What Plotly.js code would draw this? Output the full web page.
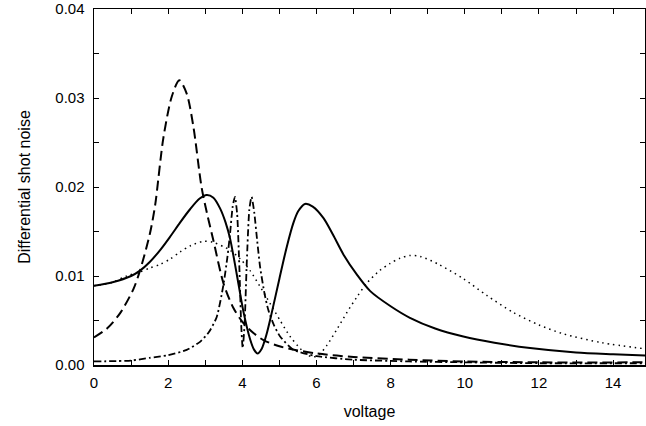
<!DOCTYPE html>
<html>
<head>
<meta charset="utf-8">
<script src="https://cdn.plot.ly/plotly-3.0.1.min.js"></script>
<style>html,body{margin:0;padding:0;background:#fff;}#chart{width:646px;height:426px;}</style>
</head>
<body>
<div id="chart"></div>
<script>
// Solid curve
var solidX = [0, 0.5, 1.0, 1.24, 1.51, 1.8, 2.05, 2.32, 2.59, 2.85, 3.04, 3.22, 3.40, 3.55, 3.67, 3.85, 4.03, 4.21, 4.32, 4.41, 4.52, 4.65, 4.79, 5.0, 5.2, 5.38, 5.51, 5.69, 5.9, 6.19, 6.45, 6.73, 7.1, 7.45, 8.0, 8.52, 9.2, 9.96, 10.8, 11.76, 13.0, 14.0, 14.9];
var solidY = [0.0089, 0.0093, 0.0100, 0.0106, 0.0116, 0.0130, 0.0144, 0.0160, 0.0175, 0.0187, 0.0191, 0.0188, 0.0176, 0.0160, 0.0142, 0.0102, 0.0060, 0.0029, 0.0017, 0.0013, 0.0018, 0.0034, 0.0058, 0.0097, 0.0133, 0.0160, 0.0173, 0.0181, 0.0178, 0.0165, 0.0146, 0.0124, 0.0101, 0.0083, 0.0066, 0.0053, 0.0041, 0.0032, 0.0025, 0.0019, 0.0014, 0.0012, 0.00105];

// Long-dashed curve
var dashX = [0, 0.35, 0.70, 1.06, 1.24, 1.51, 1.65, 1.87, 2.10, 2.30, 2.50, 2.68, 2.90, 3.05, 3.22, 3.49, 3.76, 4.03, 4.30, 4.57, 5.0, 5.3, 6.0, 7.0, 8.5, 10, 12, 14.9];
var dashY = [0.0031, 0.0041, 0.0058, 0.0085, 0.0106, 0.0148, 0.0180, 0.0255, 0.0302, 0.0320, 0.0305, 0.0268, 0.0200, 0.0170, 0.0140, 0.0092, 0.0064, 0.0047, 0.0036, 0.0028, 0.0021, 0.0018, 0.0013, 0.0009, 0.0006, 0.0004, 0.0003, 0.0003];

// Dash-dot curve (double peak)
var dashdotX = [0, 1.0, 1.5, 2.0, 2.5, 2.86, 3.1, 3.31, 3.49, 3.6, 3.67, 3.74, 3.80, 3.86, 3.92, 3.97, 4.01, 4.06, 4.12, 4.19, 4.25, 4.32, 4.40, 4.48, 4.60, 4.70, 4.85, 5.02, 5.38, 6.0, 7.0, 8.5, 10, 12, 14.9];
var dashdotY = [0.0004, 0.0005, 0.0008, 0.0011, 0.0017, 0.0026, 0.0037, 0.0054, 0.0090, 0.0122, 0.0148, 0.0178, 0.0189, 0.0170, 0.0110, 0.0045, 0.0019, 0.0045, 0.0115, 0.0175, 0.0189, 0.0172, 0.0140, 0.0110, 0.0080, 0.0062, 0.0045, 0.0032, 0.0017, 0.0010, 0.0006, 0.0004, 0.0003, 0.0002, 0.0002];

// Dotted curve
var dotX = [0, 0.5, 0.88, 1.2, 1.51, 1.78, 2.05, 2.32, 2.6, 2.95, 3.2, 3.49, 3.67, 3.95, 4.21, 4.48, 4.75, 5.02, 5.29, 5.55, 5.74, 5.9, 6.05, 6.28, 6.55, 6.82, 7.1, 7.36, 7.7, 7.98, 8.25, 8.52, 8.8, 9.3, 9.96, 10.6, 11.31, 12.0, 12.66, 13.7, 14.9];
var dotY = [0.0089, 0.0093, 0.0100, 0.0104, 0.0109, 0.0113, 0.0119, 0.0127, 0.0134, 0.0139, 0.0138, 0.0133, 0.0129, 0.0119, 0.0106, 0.0088, 0.0069, 0.0050, 0.0032, 0.0019, 0.0012, 0.0009, 0.0011, 0.0022, 0.0040, 0.0059, 0.0077, 0.0092, 0.0106, 0.0114, 0.0120, 0.0123, 0.0122, 0.0113, 0.0097, 0.0078, 0.0059, 0.0045, 0.0035, 0.0025, 0.0018];

var xTickVals = [0,1,2,3,4,5,6,7,8,9,10,11,12,13,14];
var xTickText = ['0','','2','','4','','6','','8','','10','','12','','14'];
var yTickVals = [0, 0.005, 0.01, 0.015, 0.02, 0.025, 0.03, 0.035, 0.04];
var yTickText = ['0.00','','0.01','','0.02','','0.03','','0.04'];

var tickFont = {family: 'Liberation Sans, Arial, sans-serif', size: 15, color: '#000'};
var titleFont = {family: 'Liberation Sans, Arial, sans-serif', size: 16, color: '#000'};

var traces = [
  {x: solidX, y: solidY, mode: 'lines', line: {color: '#000', width: 2, shape: 'spline', smoothing: 0.8, dash: 'solid'}},
  {x: dashX, y: dashY, mode: 'lines', line: {color: '#000', width: 2, shape: 'spline', smoothing: 0.8, dash: '10px,5px'}},
  {x: dashdotX, y: dashdotY, mode: 'lines', line: {color: '#000', width: 1.8, shape: 'spline', smoothing: 0.6, dash: '7px,3px,2px,3px'}},
  {x: dotX, y: dotY, mode: 'lines', line: {color: '#000', width: 1.5, shape: 'spline', smoothing: 0.8, dash: '1.5px,4px'}}
];

var layout = {
  width: 646, height: 426,
  margin: {l: 94, r: 1, t: 9, b: 61},
  paper_bgcolor: '#fff', plot_bgcolor: '#fff',
  showlegend: false,
  xaxis: {
    range: [0, 14.86], showgrid: false, zeroline: false,
    showline: true, linecolor: '#000', linewidth: 1.5, mirror: 'ticks',
    ticks: 'inside', ticklen: 5, tickwidth: 1, tickcolor: '#000',
    tickvals: xTickVals, ticktext: xTickText,
    tickfont: tickFont, ticklabelstandoff: 3,
    title: {text: 'voltage', font: titleFont, standoff: 16}
  },
  yaxis: {
    range: [0, 0.04], showgrid: false, zeroline: false,
    showline: true, linecolor: '#000', linewidth: 1.5, mirror: 'ticks',
    ticks: 'inside', ticklen: 5, tickwidth: 1, tickcolor: '#000',
    tickvals: yTickVals, ticktext: yTickText,
    tickfont: tickFont, ticklabelstandoff: 5,
    title: {text: 'Differential shot noise', font: titleFont, standoff: 20}
  }
};

Plotly.newPlot('chart', traces, layout, {displayModeBar: false, staticPlot: true});
</script>
</body>
</html>
